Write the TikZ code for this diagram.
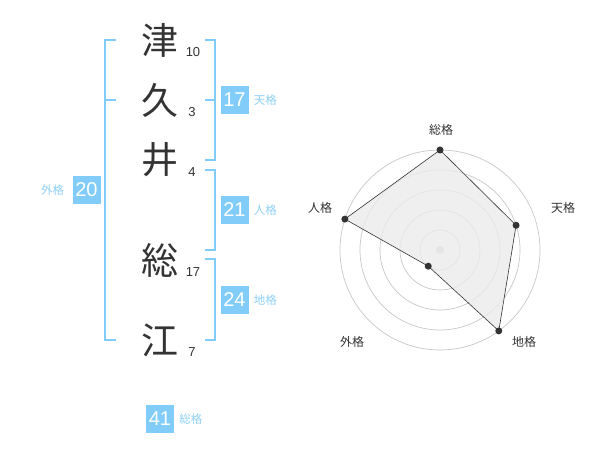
\documentclass[tikz,border=0pt]{standalone}
\usepackage{fontspec}
\setmainfont{Liberation Sans}
\newfontfamily\jpfont{Noto Sans CJK JP}
\usetikzlibrary{positioning}
\definecolor{kakublue}{HTML}{82CCFA}
\definecolor{kakutext}{HTML}{8DCFF5}
\definecolor{inkgray}{HTML}{333333}
\tikzset{
    kanji/.style = {inner sep=0pt, text=inkgray, font=\jpfont\fontsize{37}{37}\selectfont},
    strokes/.style = {inner sep=0pt, text=inkgray, font=\fontsize{13}{13}\selectfont},
    scorebox/.style = {rectangle, fill=kakublue, text=white, inner sep=0pt, minimum width=28pt, minimum height=28pt, font=\fontsize{20}{20}\selectfont},
    kakulabel/.style = {inner sep=0pt, text=kakutext, font=\jpfont\fontsize{11.5}{12}\selectfont},
    bracket/.style = {draw=kakublue, line width=2pt},
    ring/.style = {draw=black!22, line width=0.7pt},
    radarlabel/.style = {inner sep=0pt, text=inkgray, font=\jpfont\fontsize{12}{12}\selectfont},
    dot/.style = {circle, fill=inkgray, inner sep=0pt, minimum size=7pt},
}

\begin{document}
\begin{tikzpicture}[x=1pt,y=-1pt]
\useasboundingbox (0,0) rectangle (600,470);
%
\node[kanji] at (160, 40) (k1) {津};
\node[kanji] at (160,100) (k2) {久};
\node[kanji] at (160,160) (k3) {井};
\node[kanji] at (160,260) (k4) {総};
\node[kanji] at (160,340) (k5) {江};
%
\node[strokes] at (193, 52) (s1) {10};
\node[strokes] at (192,112) (s2) {3};
\node[strokes] at (192,172) (s3) {4};
\node[strokes] at (193,272) (s4) {17};
\node[strokes] at (192,352) (s5) {7};
%
\draw[bracket] (116,40) -- (105,40) -- (105,340) -- (116,340);
\draw[bracket] (105,100) -- (116,100);
\draw[bracket] (205,40) -- (215,40) -- (215,160) -- (205,160);
\draw[bracket] (215,100) -- (205,100);
\draw[bracket] (205,170) -- (215,170) -- (215,250) -- (205,250);
\draw[bracket] (205,259) -- (215,259) -- (215,340) -- (205,340);
%
\node[scorebox] at (234.5,100) (ten) {17};
\node[kakulabel, right=5pt of ten] (tenl) {天格};
\node[scorebox] at (234.5,210) (jin) {21};
\node[kakulabel, right=5pt of jin] (jinl) {人格};
\node[scorebox] at (234.5,300) (chi) {24};
\node[kakulabel, right=5pt of chi] (chil) {地格};
\node[scorebox] at (86.5,190) (gai) {20};
\node[kakulabel, left=8pt of gai] (gail) {外格};
\node[scorebox] at (160,419) (sou) {41};
\node[kakulabel, right=5pt of sou] (soul) {総格};
%
\begin{scope}[shift={(440,250)}, yscale=-1]
\foreach \r in {20,40,60,80,100}
    \draw[ring] (0,0) circle (\r);
\fill[black!20] (0,0) circle (4);
\coordinate (pso) at (90:100);
\coordinate (pte) at (18:80);
\coordinate (pch) at (-54:100);
\coordinate (pga) at (-126:20);
\coordinate (pji) at (162:100);
\filldraw[fill=black!8, fill opacity=0.8, draw=inkgray, line width=0.6pt]
    (pso) -- (pte) -- (pch) -- (pga) -- (pji) -- cycle;
\foreach \p in {pso,pte,pch,pga,pji}
    \node[dot] at (\p) {};
\end{scope}
%
\node[radarlabel] at (441,130) (lso) {総格};
\node[radarlabel] at (563,208) (lte) {天格};
\node[radarlabel] at (320,208) (lji) {人格};
\node[radarlabel] at (352,342) (lga) {外格};
\node[radarlabel] at (524,342) (lch) {地格};

\end{tikzpicture}
\end{document}
